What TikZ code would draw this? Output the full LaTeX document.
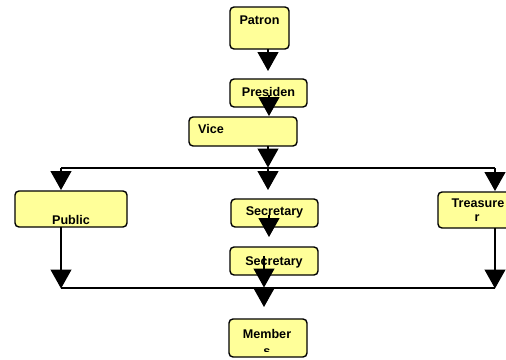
\documentclass[tikz,border=0pt]{standalone}
\usepackage{fontspec}
\setmainfont{Liberation Sans}
\usetikzlibrary{arrows.meta}
\definecolor{boxfill}{HTML}{FFFF99}
\tikzset{
  box/.style={draw=black, line width=1.4pt, fill=boxfill, rounded corners=4pt},
  lbl/.style={font=\bfseries\fontsize{12.6}{14}\selectfont, inner sep=0pt, anchor=base},
  lblw/.style={lbl, anchor=base west},
  arr/.style={draw=black, line width=1.2pt, -{Triangle[width=21pt,length=19pt]}},
  wire/.style={draw=black, line width=1.2pt}
}
\begin{document}
\begin{tikzpicture}[x=1pt,y=-1pt]
\clip (0,0) rectangle (506,359);
\fill[white] (0,0) rectangle (506,359);
% boxes
\draw[box] (230,7) rectangle (289,49); \coordinate (patron) at (259.5,28);
\draw[box] (230,79) rectangle (307,107);
\draw[box] (189,117) rectangle (297,146);
\draw[box] (15,191) rectangle (127,227);
\draw[box] (231,199) rectangle (318,227);
\draw[box] (438,192) rectangle (522,228);
\draw[box] (230,247) rectangle (318,275);
\draw[box] (229,319) rectangle (307,357);
% labels
\node[lbl] (tpatron) at (259.5,24) {Patron};
\node[lbl] (tpres) at (268.5,96) {Presiden};
\node[lblw] (tvice) at (198,133) {Vice};
\begin{scope}
\clip (15,191) rectangle (127,225);
\node[lbl] (tpublic) at (71,224.5) {Public};
\end{scope}
\node[lbl] (tsec1) at (274.5,215) {Secretary};
\node[lbl] (tsec2) at (274,265) {Secretary};
\node[lbl] (ttreas) at (478,207) {Treasure};
\node[lbl] (ttreasr) at (477,221) {r};
\node[lbl] (tmem) at (267,338) {Member};
\begin{scope}
\clip (229,319) rectangle (307,351.5);
\node[lbl] (tmems) at (267,355) {s};
\end{scope}
% connector points
\coordinate (p1a) at (268,49);  \coordinate (p1b) at (268,71);
\coordinate (p2a) at (269,95);  \coordinate (p2b) at (269,116);
\coordinate (p3a) at (268,146); \coordinate (p3b) at (268,167.5);
\coordinate (busL) at (61,168); \coordinate (busM) at (268,168); \coordinate (busR) at (495,168);
\coordinate (dL) at (61,190); \coordinate (dM) at (268,190); \coordinate (dR) at (495,191);
\coordinate (s1a) at (269,215); \coordinate (s1b) at (269,237);
\coordinate (s2a) at (264,256); \coordinate (s2b) at (264,287.5);
\coordinate (bbL) at (61,288); \coordinate (bbM) at (264,288); \coordinate (bbR) at (495,288);
\coordinate (pubA) at (61,227); \coordinate (treA) at (495,228);
\coordinate (memB) at (264,307);
% connectors
\draw[arr] (p1a) -- (p1b);
\draw[arr] (p2a) -- (p2b);
\draw[arr] (p3a) -- (p3b);
\draw[wire] (busL) -- (busR);
\draw[arr] (busL) -- (dL);
\draw[arr] (busM) -- (dM);
\draw[arr] (busR) -- (dR);
\draw[arr] (s1a) -- (s1b);
\draw[arr] (s2a) -- (s2b);
\draw[wire] (bbL) -- (bbR);
\draw[arr] (pubA) -- ([yshift=-0.5pt]bbL);
\draw[arr] (treA) -- ([yshift=-0.5pt]bbR);
\draw[arr] (bbM) -- (memB);
\end{tikzpicture}
\end{document}
